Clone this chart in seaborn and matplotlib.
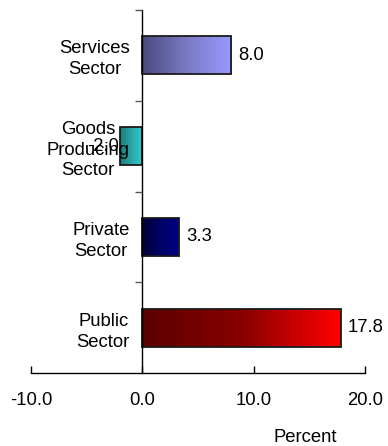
import numpy as np
import pandas as pd
import matplotlib
matplotlib.use("Agg")
import matplotlib.pyplot as plt
from matplotlib.colors import LinearSegmentedColormap
import seaborn as sns

categories = ["Services\nSector", "Goods\nProducing\nSector", "Private\nSector", "Public\nSector"]
values = [8.0, -2.0, 3.3, 17.8]
value_labels = ["8.0", "-2.0", "3.3", "17.8"]
x_ticks = [-10, 0, 10, 20]
x_tick_labels = ["-10.0", "0.0", "10.0", "20.0"]
gradients = [
    ["#4a4a7c", "#7a7ac4", "#9999ff"],
    ["#1c7a7a", "#2aa8a8", "#33cccc"],
    ["#000036", "#000066", "#000082"],
    ["#5a0000", "#880000", "#ff0000"],
]

sns.set_theme(style="white")
plt.rcParams["font.family"] = ["Liberation Sans", "DejaVu Sans"]
plt.rcParams["text.color"] = "black"
plt.rcParams["xtick.color"] = "black"
plt.rcParams["ytick.color"] = "black"
plt.rcParams["xtick.labelcolor"] = "black"
plt.rcParams["ytick.labelcolor"] = "black"

df = pd.DataFrame({"cat": categories, "val": values})

fig = plt.figure(figsize=(3.88, 4.46), dpi=100)
ax = fig.add_axes([31 / 388, 1 - 373 / 446, (365 - 31) / 388, (373 - 10) / 446])

sns.barplot(data=df, x="val", y="cat", orient="h", width=0.42, ax=ax,
            color="white", edgecolor="#1a1a1a", linewidth=1.3)

grad = np.linspace(0, 1, 256).reshape(1, -1)
for patch, cols, val, lab in zip(ax.patches, gradients, values, value_labels):
    x0, y0 = patch.get_x(), patch.get_y()
    w, h = patch.get_width(), patch.get_height()
    cmap = LinearSegmentedColormap.from_list("g", cols)
    left, right = min(x0, x0 + w), max(x0, x0 + w)
    im = ax.imshow(grad, cmap=cmap, aspect="auto", extent=[left, right, y0 + h, y0],
                   zorder=1, interpolation="bilinear")
    im.set_clip_path(patch)
    patch.set_facecolor("none")
    patch.set_zorder(2)
    yc = y0 + h / 2
    if val >= 0:
        ax.annotate(lab, xy=(val, yc), xytext=(5, 0), textcoords="offset points",
                    ha="left", va="center", fontsize=13.3, color="black", zorder=3)
    else:
        ax.annotate(lab, xy=(val, yc), xytext=(-1, 0), textcoords="offset points",
                    ha="right", va="center", fontsize=13.3, color="black", zorder=3)

ax.set_xlim(-10, 20)
ax.set_ylim(3.5, -0.5)
ax.set_axisbelow(False)

ax.set_xlabel("")
ax.set_ylabel("")
ax.spines["top"].set_visible(False)
ax.spines["right"].set_visible(False)
ax.spines["left"].set_position(("data", 0))
for s in ["left", "bottom"]:
    ax.spines[s].set_color("black")
    ax.spines[s].set_linewidth(1.0)

ax.set_xticks(x_ticks)
ax.set_xticklabels(x_tick_labels, fontsize=13.3)
ax.tick_params(axis="x", direction="in", length=5, width=1, color="black", pad=14, bottom=True)

ax.set_yticks(range(len(categories)))
ax.set_yticklabels(categories, fontsize=13.3, multialignment="center")
ax.tick_params(axis="y", which="major", length=0, pad=9, left=True)
ax.set_yticks([-0.5, 0.5, 1.5, 2.5], minor=True)
ax.tick_params(axis="y", which="minor", direction="out", length=5, width=1, color="#555555", left=True)
for lab in ax.get_yticklabels():
    lab.set_linespacing(1.3)

fig.text(305 / 388, 1 - 438 / 446, "Percent", fontsize=13.3, ha="center", va="center")

fig.savefig("out.png", dpi=100)
